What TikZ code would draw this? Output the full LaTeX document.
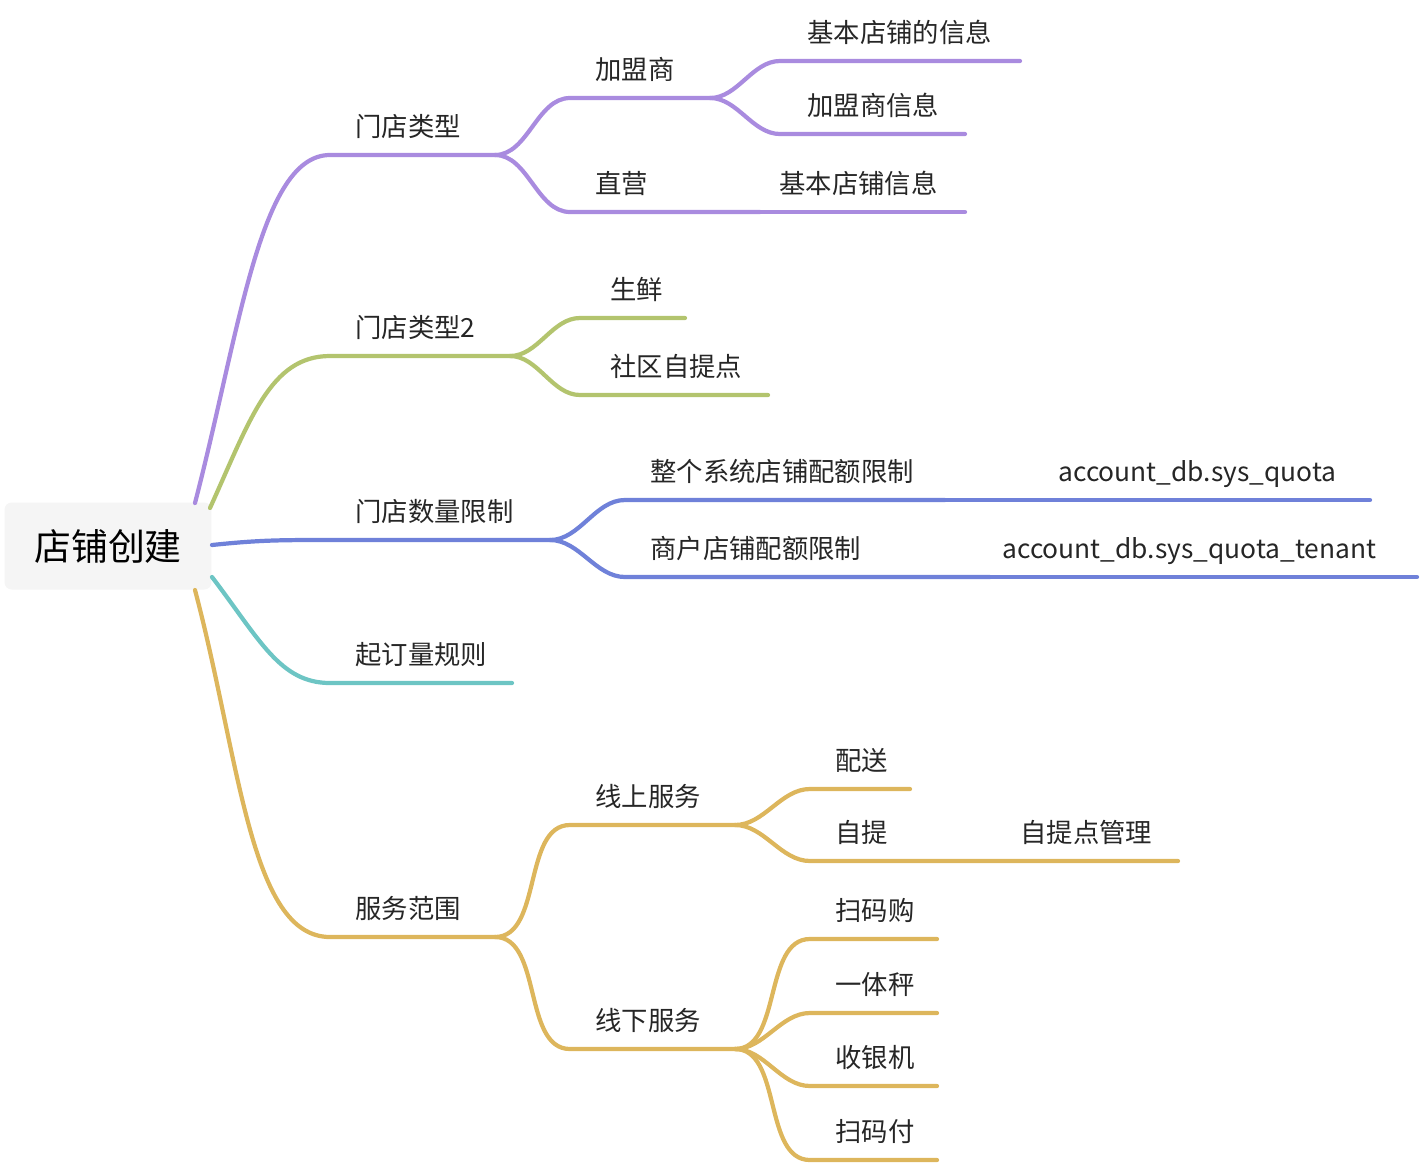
\documentclass[tikz,border=0pt]{standalone}
\usepackage{fontspec}
\setmainfont{Noto Sans CJK SC}
\definecolor{cpur}{HTML}{A98BDF}
\definecolor{cgrn}{HTML}{B3C46E}
\definecolor{cblu}{HTML}{6F81D9}
\definecolor{ctea}{HTML}{6DC5C4}
\definecolor{cgld}{HTML}{DDB65C}
\tikzset{
  br/.style={line width=2.4pt, line cap=round},
  lbl/.style={anchor=base west, inner sep=0pt, font=\fontsize{15}{15}\selectfont, text=black!85},
  sc/.style={out=0, in=180, looseness=0.9}
}
\begin{document}
\begin{tikzpicture}[x=0.02cm,y=-0.02cm]
  \useasboundingbox (0,0) rectangle (1420,1164);
  \node[fill=black!4, rounded corners=4pt, minimum width=4.14cm, minimum height=1.74cm,
        font=\fontsize{21}{21}\selectfont] (root) at (108,546) {店铺创建};

  % level 1
  \coordinate (r1) at (195,503);
  \coordinate (r2) at (210,508);
  \coordinate (r3) at (212,545);
  \coordinate (r4) at (212,577);
  \coordinate (r5) at (195,590);
  \node[lbl] (mdlx) at (355,136) {门店类型};
  \node[lbl] (mdlx2) at (355,337) {门店类型2};
  \node[lbl] (mdsl) at (355,521) {门店数量限制};
  \node[lbl] (qdl) at (355,664) {起订量规则};
  \node[lbl] (fwfw) at (355,918) {服务范围};
  \coordinate (a1) at (330,155); \coordinate (a1e) at (495,155);
  \coordinate (a2) at (330,356); \coordinate (a2e) at (510,356);
  \coordinate (a3) at (330,540); \coordinate (a3e) at (550,540);
  \coordinate (a4) at (330,683); \coordinate (a4e) at (512,683);
  \coordinate (a5) at (330,937); \coordinate (a5e) at (495,937);
  \draw[br, cpur] (r1) .. controls (240,330) and (260,155) .. (a1) -- (a1e);
  \draw[br, cgrn] (r2) .. controls (250,420) and (270,356) .. (a2) -- (a2e);
  \draw[br, cblu] (r3) .. controls (260,540) and (280,540) .. (a3) -- (a3e);
  \draw[br, ctea] (r4) .. controls (260,640) and (280,683) .. (a4) -- (a4e);
  \draw[br, cgld] (r5) .. controls (240,760) and (250,937) .. (a5) -- (a5e);

  % level 2
  \node[lbl] (jms) at (595,79) {加盟商};
  \node[lbl] (zy) at (595,193) {直营};
  \node[lbl] (sx) at (610,299) {生鲜};
  \node[lbl] (sq) at (610,376) {社区自提点};
  \node[lbl] (zg) at (650,481) {整个系统店铺配额限制};
  \node[lbl] (sh) at (650,558) {商户店铺配额限制};
  \node[lbl] (xs) at (595,806) {线上服务};
  \node[lbl] (xx) at (595,1030) {线下服务};
  \coordinate (b1) at (570,98);  \coordinate (b1e) at (710,98);
  \coordinate (b2) at (570,212); \coordinate (b2e) at (760,212);
  \coordinate (b3) at (580,318); \coordinate (b3e) at (685,318);
  \coordinate (b4) at (580,395); \coordinate (b4e) at (768,395);
  \coordinate (b5) at (625,500); \coordinate (b5e) at (945,500);
  \coordinate (b6) at (625,577); \coordinate (b6e) at (990,577);
  \coordinate (b7) at (570,825); \coordinate (b7e) at (735,825);
  \coordinate (b8) at (570,1049); \coordinate (b8e) at (735,1049);
  \draw[br, cpur] (a1e) to[sc] (b1) -- (b1e);
  \draw[br, cpur] (a1e) to[sc] (b2) -- (b2e);
  \draw[br, cgrn] (a2e) to[sc] (b3) -- (b3e);
  \draw[br, cgrn] (a2e) to[sc] (b4) -- (b4e);
  \draw[br, cblu] (a3e) to[sc] (b5) -- (b5e);
  \draw[br, cblu] (a3e) to[sc] (b6) -- (b6e);
  \draw[br, cgld] (a5e) to[sc] (b7) -- (b7e);
  \draw[br, cgld] (a5e) to[sc] (b8) -- (b8e);

  % level 3
  \node[lbl] (jbd) at (807,42) {基本店铺的信息};
  \node[lbl] (jmx) at (807,115) {加盟商信息};
  \node[lbl] (jbx) at (779,193) {基本店铺信息};
  \node[lbl] (sq1) at (1058,481) {account\_db.sys\_quota};
  \node[lbl] (sq2) at (1002,558) {account\_db.sys\_quota\_tenant};
  \node[lbl] (ps) at (835,770) {配送};
  \node[lbl] (zt) at (835,842) {自提};
  \node[lbl] (ztg) at (1020,842) {自提点管理};
  \node[lbl] (smg) at (835,920) {扫码购};
  \node[lbl] (ytc) at (835,994) {一体秤};
  \node[lbl] (syj) at (835,1067) {收银机};
  \node[lbl] (smf) at (835,1141) {扫码付};
  \coordinate (c1) at (780,61);   \coordinate (c1e) at (1020,61);
  \coordinate (c2) at (780,134);  \coordinate (c2e) at (965,134);
  \coordinate (c3e) at (965,212);
  \coordinate (c4e) at (1370,500);
  \coordinate (c5e) at (1417,577);
  \coordinate (c6) at (810,789);  \coordinate (c6e) at (910,789);
  \coordinate (c7) at (810,861);  \coordinate (c7e) at (1000,861);
  \coordinate (c8e) at (1178,861);
  \coordinate (d1) at (810,939);  \coordinate (d1e) at (937,939);
  \coordinate (d2) at (810,1013); \coordinate (d2e) at (937,1013);
  \coordinate (d3) at (810,1086); \coordinate (d3e) at (937,1086);
  \coordinate (d4) at (810,1160); \coordinate (d4e) at (937,1160);
  \draw[br, cpur] (b1e) to[sc] (c1) -- (c1e);
  \draw[br, cpur] (b1e) to[sc] (c2) -- (c2e);
  \draw[br, cpur] (b2e) -- (c3e);
  \draw[br, cblu] (b5e) -- (c4e);
  \draw[br, cblu] (b6e) -- (c5e);
  \draw[br, cgld] (b7e) to[sc] (c6) -- (c6e);
  \draw[br, cgld] (b7e) to[sc] (c7) -- (c7e) -- (c8e);
  \draw[br, cgld] (b8e) to[sc] (d1) -- (d1e);
  \draw[br, cgld] (b8e) to[sc] (d2) -- (d2e);
  \draw[br, cgld] (b8e) to[sc] (d3) -- (d3e);
  \draw[br, cgld] (b8e) to[sc] (d4) -- (d4e);
\end{tikzpicture}
\end{document}
